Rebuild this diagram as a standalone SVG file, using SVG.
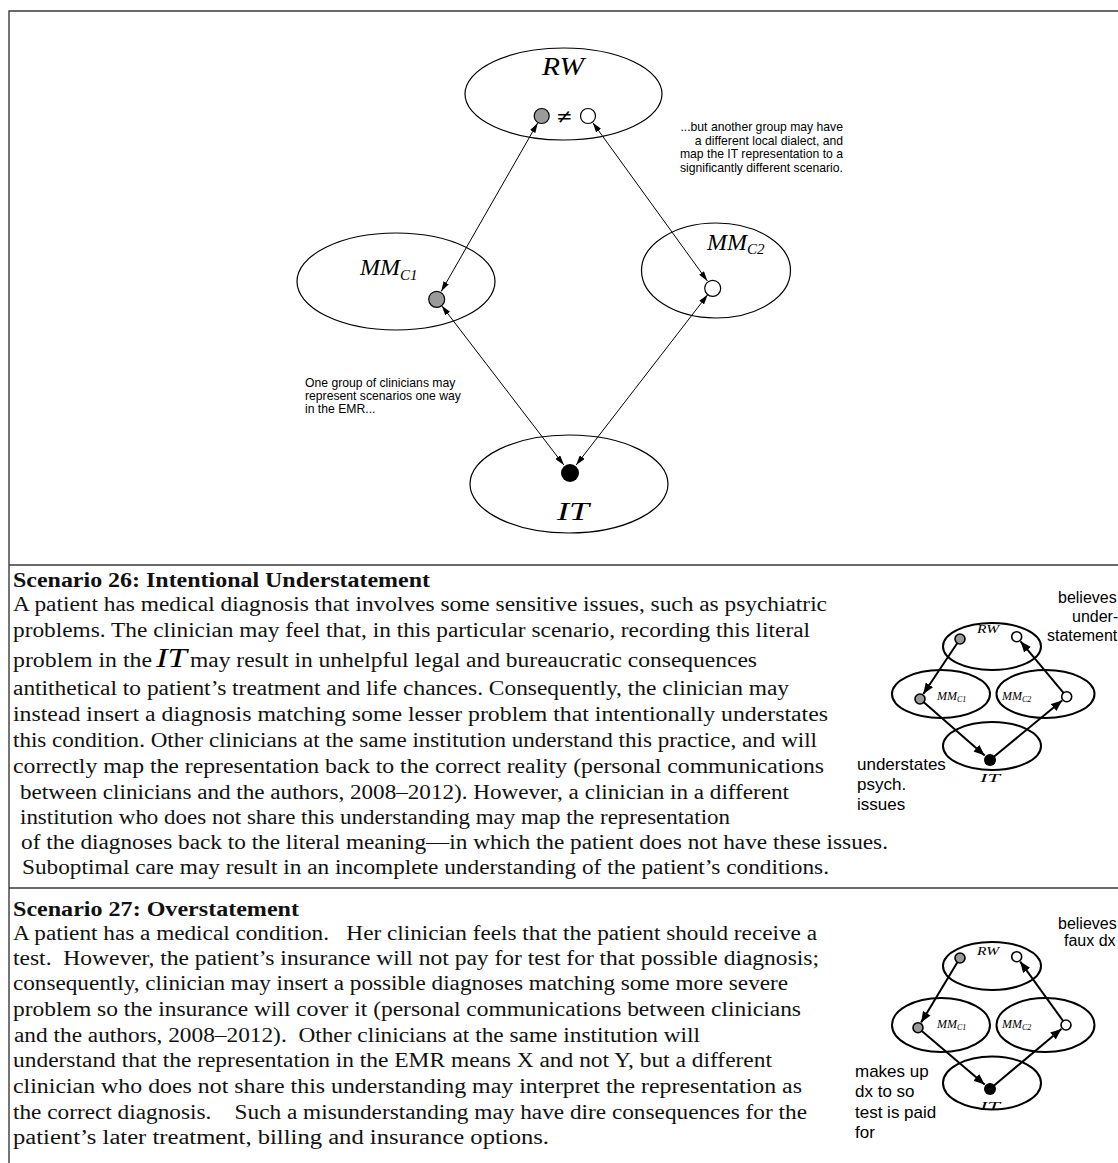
<svg xmlns="http://www.w3.org/2000/svg" width="1118" height="1163" viewBox="0 0 1118 1163">
<style>
.frame{stroke:#3a3a3a;stroke-width:1.4;fill:none}
.ell{fill:none;stroke:#000;stroke-width:1.2}
.sell{fill:none;stroke:#000;stroke-width:2}
.grey{fill:#9a9a9a;stroke:#000;stroke-width:1.2}
.white{fill:#fff;stroke:#000;stroke-width:1.2}
.sgrey{fill:#9a9a9a;stroke:#000;stroke-width:1.6}
.swhite{fill:#fff;stroke:#000;stroke-width:1.6}
.blk{fill:#000}
.conn{stroke:#000;stroke-width:1;fill:none;marker-start:url(#ah);marker-end:url(#ah)}
.sconn{stroke:#000;stroke-width:2;fill:none;marker-end:url(#sah)}
.scr{font-family:"Liberation Serif","DejaVu Serif",serif;font-style:italic;fill:#000}
.note{font-family:"Liberation Sans",Arial,sans-serif;font-size:12.2px;fill:#000}
.lab{font-family:"Liberation Sans",Arial,sans-serif;font-size:17px;fill:#000}
.rlab{font-family:"Liberation Sans",Arial,sans-serif;font-size:16px;fill:#000}
.body{font-family:"Liberation Serif","DejaVu Serif",serif;font-size:20px;fill:#111}
.head{font-family:"Liberation Serif","DejaVu Serif",serif;font-size:20px;font-weight:bold;fill:#111}
</style>
<defs>
<marker id="ah" viewBox="0 0 10 6" refX="10" refY="3" markerWidth="10" markerHeight="6" markerUnits="userSpaceOnUse" orient="auto-start-reverse">
<path d="M0,0 L10,3 L0,6 Z" fill="#000"/>
</marker>
<marker id="sah" viewBox="0 0 10 8" refX="10" refY="4" markerWidth="11" markerHeight="9" markerUnits="userSpaceOnUse" orient="auto">
<path d="M0,0 L10,4 L0,8 Z" fill="#000"/>
</marker>
</defs>
<rect width="1118" height="1163" fill="#fff"/>
<g id="frame">
<path class="frame" d="M9,1163 V11 H1118 M9,565 H1118 M9,888 H1118"/>
</g>

<!-- Top diagram -->
<g id="node-rw">
<ellipse class="ell" cx="563.5" cy="94" rx="98.5" ry="46"/>
<text class="scr" x="563" y="75" font-size="25" text-anchor="middle" textLength="42" lengthAdjust="spacingAndGlyphs">RW</text>
<circle class="grey" cx="541.7" cy="116" r="7.5"/>
<circle class="white" cx="588" cy="116" r="7.5"/>
<text x="564.5" y="123" font-family="DejaVu Sans,sans-serif" font-size="20" text-anchor="middle">≠</text>
</g>
<g id="node-mmc1">
<ellipse class="ell" cx="396" cy="281.5" rx="99" ry="48.5"/>
<text class="scr" x="360" y="275" font-size="24">MM<tspan font-size="15" dy="5">C1</tspan></text>
<circle class="grey" cx="436.7" cy="299.3" r="8"/>
</g>
<g id="node-mmc2">
<ellipse class="ell" cx="716" cy="270.5" rx="74.5" ry="47.5"/>
<text class="scr" x="707" y="250" font-size="24">MM<tspan font-size="15" dy="4">C2</tspan></text>
<circle class="white" cx="712.7" cy="288.3" r="8"/>
</g>
<g id="node-it">
<ellipse class="ell" cx="569" cy="484" rx="99" ry="49"/>
<circle class="blk" cx="570" cy="473" r="9"/>
<text class="scr" x="573" y="520" font-size="26" text-anchor="middle" textLength="32" lengthAdjust="spacingAndGlyphs">IT</text>
</g>
<g id="connectors-top">
<line class="conn" x1="537.7" y1="122.9" x2="441.2" y2="291.5"/>
<line class="conn" x1="592.7" y1="122.5" x2="707.4" y2="281"/>
<line class="conn" x1="441.6" y1="305.6" x2="563.9" y2="465.1"/>
<line class="conn" x1="707.8" y1="294.6" x2="576.1" y2="465.1"/>
</g>
<g id="note-right" class="note" text-anchor="end">
<text x="843" y="131">...but another group may have</text>
<text x="843" y="144.7">a different local dialect, and</text>
<text x="843" y="158.3">map the IT representation to a</text>
<text x="843" y="172">significantly different scenario.</text>
</g>
<g id="note-left" class="note">
<text x="305" y="387">One group of clinicians may</text>
<text x="305" y="400">represent scenarios one way</text>
<text x="305" y="413">in the EMR...</text>
</g>

<!-- Scenario 26 text -->
<g id="scenario26-text">
<text class="head" x="13" y="587" textLength="417" lengthAdjust="spacingAndGlyphs">Scenario 26: Intentional Understatement</text>
<text class="body" x="13" y="611" textLength="814" lengthAdjust="spacingAndGlyphs">A patient has medical diagnosis that involves some sensitive issues, such as psychiatric</text>
<text class="body" x="13" y="637" textLength="797" lengthAdjust="spacingAndGlyphs">problems. The clinician may feel that, in this particular scenario, recording this literal</text>
<text class="body" x="13" y="667" textLength="139" lengthAdjust="spacingAndGlyphs">problem in the</text>
<text class="scr" x="156" y="667" font-size="28" textLength="31" lengthAdjust="spacingAndGlyphs">IT</text>
<text class="body" x="190" y="667" textLength="567" lengthAdjust="spacingAndGlyphs">may result in unhelpful legal and bureaucratic consequences</text>
<text class="body" x="13" y="695" textLength="776" lengthAdjust="spacingAndGlyphs">antithetical to patient’s treatment and life chances. Consequently, the clinician may</text>
<text class="body" x="13" y="721" textLength="815" lengthAdjust="spacingAndGlyphs">instead insert a diagnosis matching some lesser problem that intentionally understates</text>
<text class="body" x="13" y="747" textLength="804" lengthAdjust="spacingAndGlyphs">this condition. Other clinicians at the same institution understand this practice, and will</text>
<text class="body" x="13" y="773" textLength="811" lengthAdjust="spacingAndGlyphs">correctly map the representation back to the correct reality (personal communications</text>
<text class="body" x="20" y="799" textLength="769" lengthAdjust="spacingAndGlyphs">between clinicians and the authors, 2008–2012). However, a clinician in a different</text>
<text class="body" x="20" y="824" textLength="710" lengthAdjust="spacingAndGlyphs">institution who does not share this understanding may map the representation</text>
<text class="body" x="21" y="849" textLength="867" lengthAdjust="spacingAndGlyphs">of the diagnoses back to the literal meaning—in which the patient does not have these issues.</text>
<text class="body" x="22" y="874" textLength="807" lengthAdjust="spacingAndGlyphs">Suboptimal care may result in an incomplete understanding of the patient’s conditions.</text>
</g>

<!-- Scenario 26 small diagram -->
<g id="s26-rw">
<ellipse class="sell" cx="992" cy="646.5" rx="49" ry="23.5"/>
<text class="scr" x="988" y="633" font-size="12" text-anchor="middle" textLength="22" lengthAdjust="spacingAndGlyphs">RW</text>
<circle class="sgrey" cx="960" cy="639" r="5"/>
<circle class="swhite" cx="1016.7" cy="636.7" r="5"/>
</g>
<g id="s26-mmc1">
<ellipse class="sell" cx="941" cy="694" rx="49" ry="24"/>
<text class="scr" x="937" y="700" font-size="12">MM<tspan font-size="8" dy="2">C1</tspan></text>
<circle class="sgrey" cx="920" cy="699" r="5"/>
</g>
<g id="s26-mmc2">
<ellipse class="sell" cx="1045.5" cy="694" rx="49" ry="24"/>
<text class="scr" x="1002" y="700" font-size="12">MM<tspan font-size="8" dy="2">C2</tspan></text>
<circle class="swhite" cx="1066.7" cy="696.7" r="5"/>
</g>
<g id="s26-it">
<ellipse class="sell" cx="992" cy="746" rx="49" ry="24"/>
<circle class="blk" cx="990" cy="760" r="6"/>
<text class="scr" x="990" y="782" font-size="12" text-anchor="middle" textLength="20" lengthAdjust="spacingAndGlyphs">IT</text>
</g>
<g id="s26-connectors">
<line class="sconn" x1="957.2" y1="643.2" x2="923.3" y2="694"/>
<line class="sconn" x1="923.8" y1="702.3" x2="984.7" y2="755.4"/>
<line class="sconn" x1="993.9" y1="756.8" x2="1062.1" y2="700.5"/>
<line class="sconn" x1="1063.5" y1="692.9" x2="1020.5" y2="641.3"/>
</g>
<g id="s26-labels">
<text class="rlab" x="1058" y="603">believes</text>
<text class="rlab" x="1072" y="622">under-</text>
<text class="rlab" x="1047" y="641">statement</text>
<text class="lab" x="857" y="770">understates</text>
<text class="lab" x="857" y="790">psych.</text>
<text class="lab" x="857" y="810">issues</text>
</g>

<!-- Scenario 27 text -->
<g id="scenario27-text">
<text class="head" x="13" y="916" textLength="286" lengthAdjust="spacingAndGlyphs">Scenario 27: Overstatement</text>
<text class="body" x="13" y="940" textLength="804" lengthAdjust="spacingAndGlyphs" xml:space="preserve">A patient has a medical condition.   Her clinician feels that the patient should receive a</text>
<text class="body" x="13" y="965" textLength="806" lengthAdjust="spacingAndGlyphs" xml:space="preserve">test.  However, the patient’s insurance will not pay for test for that possible diagnosis;</text>
<text class="body" x="13" y="990" textLength="775" lengthAdjust="spacingAndGlyphs">consequently, clinician may insert a possible diagnoses matching some more severe</text>
<text class="body" x="13" y="1016" textLength="788" lengthAdjust="spacingAndGlyphs">problem so the insurance will cover it (personal communications between clinicians</text>
<text class="body" x="14" y="1042" textLength="686" lengthAdjust="spacingAndGlyphs" xml:space="preserve">and the authors, 2008–2012).  Other clinicians at the same institution will</text>
<text class="body" x="13" y="1067" textLength="759" lengthAdjust="spacingAndGlyphs">understand that the representation in the EMR means X and not Y, but a different</text>
<text class="body" x="13" y="1093" textLength="789" lengthAdjust="spacingAndGlyphs">clinician who does not share this understanding may interpret the representation as</text>
<text class="body" x="13" y="1119" textLength="794" lengthAdjust="spacingAndGlyphs" xml:space="preserve">the correct diagnosis.    Such a misunderstanding may have dire consequences for the</text>
<text class="body" x="13" y="1144" textLength="536" lengthAdjust="spacingAndGlyphs">patient’s later treatment, billing and insurance options.</text>
</g>

<!-- Scenario 27 small diagram -->
<g id="s27-rw">
<ellipse class="sell" cx="992" cy="966" rx="49" ry="24"/>
<text class="scr" x="988" y="955" font-size="12" text-anchor="middle" textLength="22" lengthAdjust="spacingAndGlyphs">RW</text>
<circle class="sgrey" cx="960" cy="958" r="5"/>
<circle class="swhite" cx="1016.7" cy="956.7" r="5"/>
</g>
<g id="s27-mmc1">
<ellipse class="sell" cx="941" cy="1025" rx="49" ry="27"/>
<text class="scr" x="937" y="1028" font-size="12">MM<tspan font-size="8" dy="2">C1</tspan></text>
<circle class="sgrey" cx="918" cy="1027.7" r="5"/>
</g>
<g id="s27-mmc2">
<ellipse class="sell" cx="1045.5" cy="1025" rx="49" ry="27"/>
<text class="scr" x="1002" y="1028" font-size="12">MM<tspan font-size="8" dy="2">C2</tspan></text>
<circle class="swhite" cx="1066" cy="1025" r="5"/>
</g>
<g id="s27-it">
<ellipse class="sell" cx="992" cy="1083" rx="49" ry="26.5"/>
<circle class="blk" cx="990" cy="1089" r="6"/>
<text class="scr" x="990" y="1110" font-size="12" text-anchor="middle" textLength="20" lengthAdjust="spacingAndGlyphs">IT</text>
</g>
<g id="s27-connectors">
<line class="sconn" x1="957.4" y1="962.3" x2="921.1" y2="1022.6"/>
<line class="sconn" x1="921.8" y1="1030.9" x2="984.7" y2="1084.5"/>
<line class="sconn" x1="993.8" y1="1085.8" x2="1061.4" y2="1028.9"/>
<line class="sconn" x1="1063.1" y1="1021" x2="1020.2" y2="961.6"/>
</g>
<g id="s27-labels">
<text class="rlab" x="1058" y="929">believes</text>
<text class="rlab" x="1064" y="946">faux dx</text>
<text class="lab" x="855" y="1077">makes up</text>
<text class="lab" x="855" y="1097">dx to so</text>
<text class="lab" x="855" y="1118">test is paid</text>
<text class="lab" x="855" y="1138">for</text>
</g>
</svg>
